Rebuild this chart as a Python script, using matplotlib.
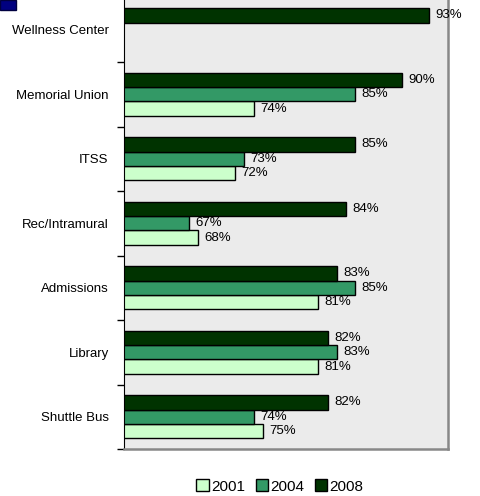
import numpy as np
import matplotlib
matplotlib.use('Agg')
import matplotlib.pyplot as plt
from matplotlib.patches import Rectangle, Patch

plt.rcParams['font.family'] = ['Liberation Sans', 'DejaVu Sans']

categories = ['Wellness Center', 'Memorial Union', 'ITSS', 'Rec/Intramural',
              'Admissions', 'Library', 'Shuttle Bus']
years = ['2001', '2004', '2008']
vals_2001 = [None, 74, 72, 68, 81, 81, 75]
vals_2004 = [None, 85, 73, 67, 85, 83, 74]
vals_2008 = [93, 90, 85, 84, 83, 82, 82]
colors = ['#CCFFCC', '#339966', '#003300']

fig = plt.figure(figsize=(4.8, 4.96), dpi=100)
ax = fig.add_axes([124 / 480, 47 / 496, 324 / 480, 451.5 / 496])
ax.set_facecolor('#ebebeb')

h = 1 / 4.5
# slot offsets within a group (top -> bottom): 2008, 2004, 2001
offsets = {'2008': -h, '2004': 0.0, '2001': h}
series = {'2001': vals_2001, '2004': vals_2004, '2008': vals_2008}

for yr, col in zip(years, colors):
    for i, v in enumerate(series[yr]):
        if v is None:
            continue
        y = i + offsets[yr]
        ax.barh(y, v, height=h, color=col, edgecolor='black', linewidth=1.0)
        ax.annotate('%d%%' % v, (v, y), xytext=(4.5, 0), textcoords='offset points',
                    va='center', ha='left', fontsize=9.5, annotation_clip=False)

ax.set_xlim(60, 95)
ax.set_ylim(6.5, -0.5)
ax.set_xticks([])
ax.set_yticks(range(len(categories)))
ax.set_yticklabels(categories, fontsize=9.5)
ax.set_yticks(np.arange(-0.5, 7, 1), minor=True)
ax.tick_params(axis='y', which='major', length=0, pad=11)
ax.tick_params(axis='y', which='minor', length=5, width=1, direction='out')

ax.spines['top'].set_visible(False)
ax.spines['left'].set_color('black')
ax.spines['right'].set_color('#888888')
ax.spines['bottom'].set_color('#888888')
ax.spines['right'].set_linewidth(1.8)
ax.spines['bottom'].set_linewidth(1.8)

handles = [Patch(facecolor=c, edgecolor='black', linewidth=1.0) for c in colors]
fig.legend(handles, years, loc='center', bbox_to_anchor=(0.583, 0.019), ncol=3,
           frameon=False, fontsize=11, handlelength=0.8, handleheight=0.8,
           handletextpad=0.15, columnspacing=0.7, borderaxespad=0)

# small blue marker at the top-left corner
fig.patches.append(Rectangle((0, 486 / 496), 16 / 480, 10 / 496, transform=fig.transFigure,
                             facecolor='#000080', edgecolor='#000040', linewidth=1))

fig.savefig('out.png', dpi=100)
